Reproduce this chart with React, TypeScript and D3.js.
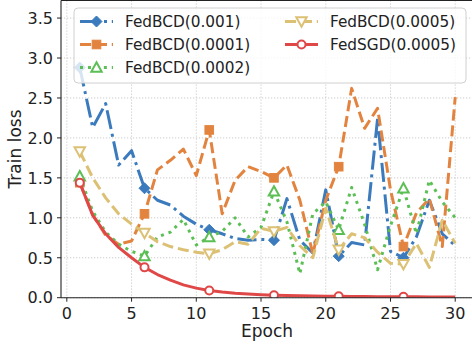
import React from "react";
import * as d3 from "d3";

const epochs = d3.range(1, 31);
const seriesNames = ["FedBCD(0.001)", "FedBCD(0.0001)", "FedBCD(0.0002)", "FedBCD(0.0005)", "FedSGD(0.0005)"];
const bcd001 = [2.88, 2.13, 2.43, 1.66, 1.84, 1.37, 1.22, 1.16, 1.02, 0.92, 0.85, 0.8, 0.74, 0.72, 0.73, 0.72, 1.24, 0.72, 0.56, 1.35, 0.52, 0.69, 0.66, 2.24, 0.58, 0.5, 0.76, 1.22, 0.8, 0.65];
const bcd0001 = [1.44, 1.04, 0.78, 0.67, 0.71, 1.05, 1.6, 1.72, 1.86, 1.53, 2.1, 1.05, 1.47, 1.64, 1.58, 1.5, 1.66, 1.22, 0.55, 1.22, 1.64, 2.62, 2.12, 2.37, 1.35, 0.64, 1.06, 1.24, 0.64, 2.51];
const bcd0002 = [1.52, 1.08, 0.82, 0.67, 0.58, 0.52, 0.76, 0.82, 0.98, 0.66, 0.76, 0.83, 1.0, 0.76, 0.88, 1.33, 0.95, 0.3, 1.05, 1.2, 0.85, 1.38, 0.92, 0.35, 0.9, 1.37, 0.8, 1.47, 1.2, 1.0];
const bcd0005 = [1.83, 1.5, 1.25, 1.05, 0.92, 0.81, 0.7, 0.64, 0.6, 0.57, 0.55, 0.6, 0.7, 0.67, 0.87, 0.83, 0.88, 0.65, 0.5, 1.12, 0.6, 0.8, 0.75, 0.57, 0.43, 0.42, 0.68, 0.38, 0.97, 0.68];
const sgd0005 = [1.44, 1.03, 0.8, 0.63, 0.5, 0.38, 0.29, 0.22, 0.16, 0.12, 0.09, 0.07, 0.055, 0.045, 0.037, 0.03, 0.026, 0.023, 0.02, 0.018, 0.017, 0.015, 0.014, 0.013, 0.012, 0.012, 0.011, 0.01, 0.01, 0.01];
const xTicks = [0, 5, 10, 15, 20, 25, 30];
const yTicks = [0, 0.5, 1, 1.5, 2, 2.5, 3, 3.5];

const allValues = [bcd001, bcd0001, bcd0002, bcd0005, sgd0005];
const colors = ["#3b7bbd", "#e2843f", "#5cbf55", "#dcc074", "#e04848"];
const dashes = ["19.2,4.8,3,4.8", "11.1,4.8", "3,4.95", "11.1,4.8", ""];
const markerKinds = ["diamond", "square", "tri-up", "tri-down", "circle"];
const MARK_EVERY = 5;

const W = 472, H = 350;
const PL = 61, PR = 474, PT = 0.5, PB = 297.7;
const FONT = "DejaVu Sans, sans-serif";
const TEXT = "#222";

function Marker({ kind, x, y, color }: { kind: string; x: number; y: number; color: string }) {
  if (kind === "diamond") {
    const r = 5.5;
    return <path d={`M${x},${y - r}L${x + r},${y}L${x},${y + r}L${x - r},${y}Z`} fill={color} stroke={color} strokeWidth={1} />;
  }
  if (kind === "square") {
    const r = 4.3;
    return <rect x={x - r} y={y - r} width={2 * r} height={2 * r} fill={color} stroke={color} strokeWidth={1} />;
  }
  if (kind === "tri-up") {
    const r = 5.2;
    return <path d={`M${x},${y - r}L${x + r},${y + r * 0.8}L${x - r},${y + r * 0.8}Z`} fill="white" stroke={color} strokeWidth={2} />;
  }
  if (kind === "tri-down") {
    const r = 5.2;
    return <path d={`M${x},${y + r}L${x + r},${y - r * 0.8}L${x - r},${y - r * 0.8}Z`} fill="white" stroke={color} strokeWidth={2} />;
  }
  return <circle cx={x} cy={y} r={4} fill="white" stroke={color} strokeWidth={2} />;
}

export default function App() {
  const x = d3.scaleLinear().domain([-0.45, 31.45]).range([PL, PR]);
  const y = d3.scaleLinear().domain([0, 3.72]).range([PB, PT]);
  const line = d3.line<number>().x((_, i) => x(epochs[i])).y((d) => y(d));

  const legendCols = [
    { x0: 80, idx: [0, 1, 2] },
    { x0: 285, idx: [3, 4] },
  ];
  const rowY = [21.5, 44.5, 67.5];

  return (
    <svg width={W} height={H} style={{ position: "absolute", left: 0, top: 0, background: "white" }} fontFamily={FONT}>
      <defs>
        <clipPath id="plotclip">
          <rect x={PL} y={PT} width={PR - PL} height={PB - PT} />
        </clipPath>
      </defs>
      {/* grid */}
      {xTicks.map((t) => (
        <line key={"gx" + t} x1={x(t)} x2={x(t)} y1={PT} y2={PB} stroke="#c4c4c4" strokeWidth={0.9} strokeDasharray="1.2,1.8" />
      ))}
      {yTicks.map((t) => (
        <line key={"gy" + t} x1={PL} x2={PR} y1={y(t)} y2={y(t)} stroke="#c4c4c4" strokeWidth={0.9} strokeDasharray="1.2,1.8" />
      ))}
      {/* series */}
      <g clipPath="url(#plotclip)">
        {allValues.map((vals, s) => (
          <g key={"s" + s}>
            <path d={line(vals) || ""} fill="none" stroke={colors[s]} strokeWidth={3} strokeDasharray={dashes[s] || undefined} strokeLinejoin="round" />
            {vals.map((v, i) =>
              i % MARK_EVERY === 0 ? <Marker key={i} kind={markerKinds[s]} x={x(epochs[i])} y={y(v)} color={colors[s]} /> : null
            )}
          </g>
        ))}
      </g>
      {/* spines */}
      <line x1={PL} x2={PL} y1={PT} y2={PB} stroke="#222" strokeWidth={1.1} />
      <line x1={PL} x2={PR} y1={PB} y2={PB} stroke="#222" strokeWidth={1.1} />
      <line x1={PL} x2={PR} y1={PT} y2={PT} stroke="#222" strokeWidth={1.1} />
      {/* ticks */}
      {xTicks.map((t) => (
        <g key={"tx" + t}>
          <line x1={x(t)} x2={x(t)} y1={PB} y2={PB + 4} stroke="#222" strokeWidth={1} />
          <text x={x(t)} y={318.5} fontSize={16} textAnchor="middle" fill={TEXT}>{t}</text>
        </g>
      ))}
      {yTicks.map((t) => (
        <g key={"ty" + t}>
          <line x1={PL - 4} x2={PL} y1={y(t)} y2={y(t)} stroke="#222" strokeWidth={1} />
          <text x={53} y={y(t)} dy="0.36em" fontSize={16} textAnchor="end" fill={TEXT}>{t.toFixed(1)}</text>
        </g>
      ))}
      <text x={267} y={337} fontSize={17} textAnchor="middle" fill={TEXT}>Epoch</text>
      <text transform={`translate(21,149) rotate(-90)`} fontSize={17} textAnchor="middle" fill={TEXT}>Train loss</text>
      {/* legend */}
      <rect x={74} y={8} width={392} height={75} rx={4} fill="white" fillOpacity={0.8} stroke="#d0d0d0" strokeWidth={1} />
      {legendCols.map((col, c) =>
        col.idx.map((s, r) => (
          <g key={"lg" + s}>
            <line x1={col.x0} x2={col.x0 + 33} y1={rowY[r]} y2={rowY[r]} stroke={colors[s]} strokeWidth={3} strokeDasharray={dashes[s] || undefined} />
            <Marker kind={markerKinds[s]} x={col.x0 + 16.5} y={rowY[r]} color={colors[s]} />
            <text x={col.x0 + 45} y={rowY[r]} dy="0.36em" fontSize={15.3} fill={TEXT}>{seriesNames[s]}</text>
          </g>
        ))
      )}
    </svg>
  );
}
